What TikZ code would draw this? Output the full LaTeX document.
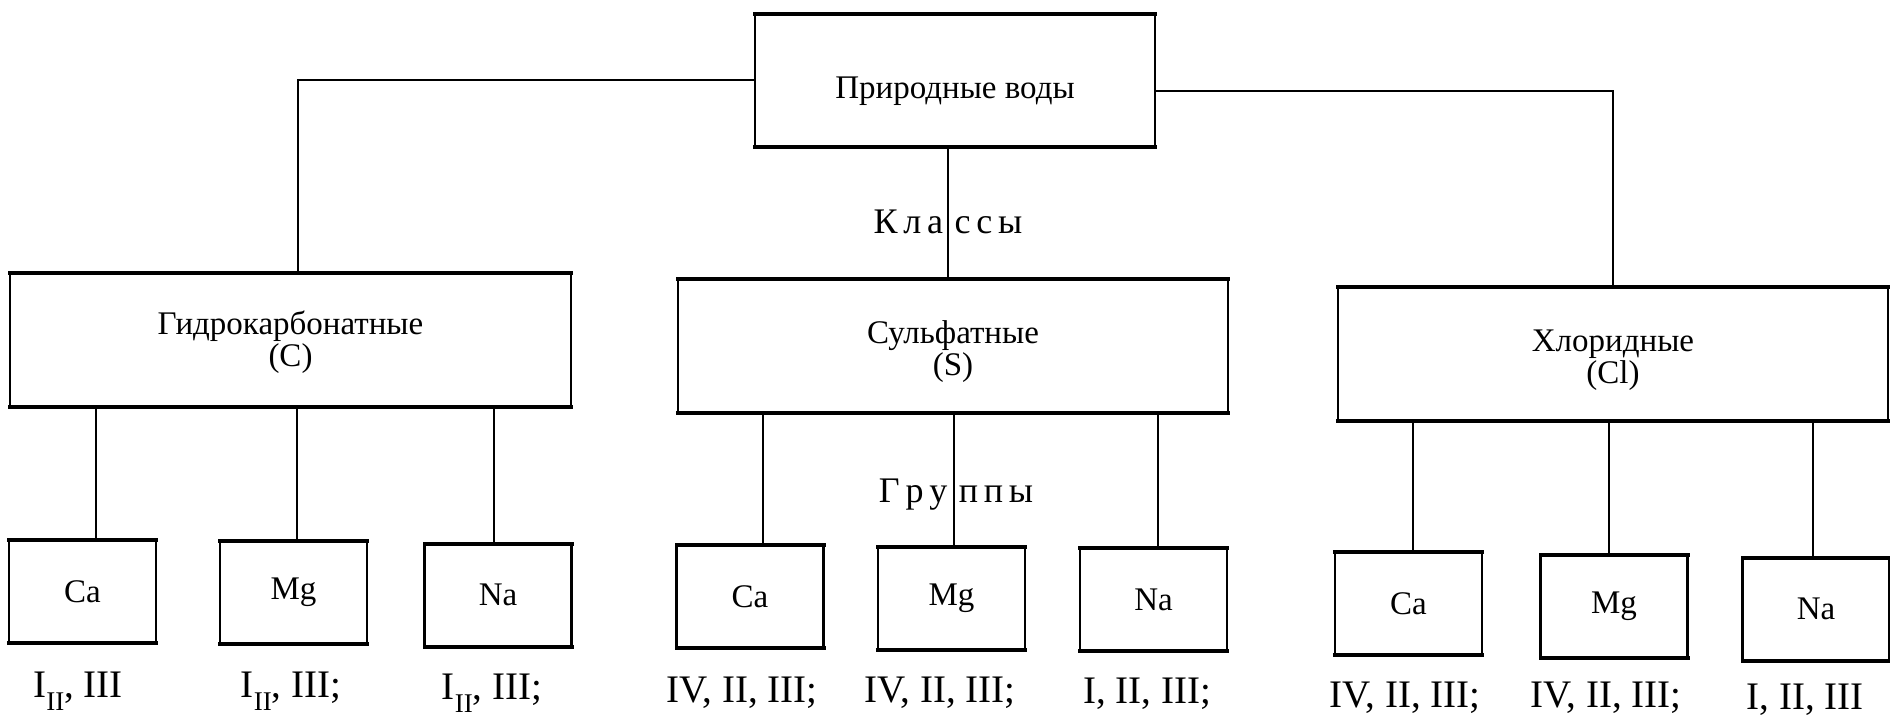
\documentclass[tikz,border=0pt]{standalone}
\usepackage{fontspec}
\setmainfont{Liberation Serif}
\newcommand\lsp{\hspace{0.16em}}
\newcommand\subII{\raisebox{-0.35em}{\fontsize{13.5}{13.5}\selectfont II}}
\newcommand\twoline[3]{\raisebox{#1}[\height][\depth]{\begin{tabular}{@{}c@{}}#2\\#3\end{tabular}}}
\begin{document}
\begin{tikzpicture}[x=0.5pt,y=-0.5pt,
  box/.style={draw, line width=1.3pt, inner sep=0pt, outer sep=0pt, align=center,
    font=\fontsize{16.5}{15.5}\selectfont,
    append after command={(\tikzlastnode.north west) edge[line width=2pt,line cap=rect] (\tikzlastnode.north east)
      (\tikzlastnode.south west) edge[line width=2pt,line cap=rect] (\tikzlastnode.south east)}},
  topbox/.style={box, minimum width=200pt, minimum height=66.5pt},
  classbox/.style={box, minimum width=275pt, minimum height=67pt},
  grpbox/.style={box, minimum width=73.5pt, minimum height=51.5pt},
  lab/.style={inner sep=0pt, anchor=base, font=\fontsize{19.5}{21}\selectfont},
  spaced/.style={inner sep=0pt, font=\fontsize{18}{20}\selectfont},
  conn/.style={line width=1pt}]
\useasboundingbox (0,0) rectangle (1890,716);
\fill[white] (0,0) rectangle (1890,716);

% top
\node[topbox] (top) at (955,80.5) {\raisebox{-5.5pt}[\height][\depth]{Природные воды}};

% classes
\node[classbox, minimum width=280.5pt] (cg) at (290.5,340) {\twoline{-1.5pt}{Гидрокарбонатные}{(C)}};
\node[classbox] (cs) at (953,346.5) {\twoline{-3pt}{Сульфатные}{(S)}};
\node[classbox] (cc) at (1613,354) {\twoline{-3.5pt}{Хлоридные}{(Cl)}};

% groups
\node[grpbox] (lca) at (82.5,591.5) {Ca};
\node[grpbox] (lmg) at (293.5,592.5) {Mg};
\node[grpbox] (lna) at (498,595) {Na};
\node[grpbox] (mca) at (750,596.5) {Ca};
\node[grpbox] (mmg) at (951.5,598) {Mg};
\node[grpbox] (mna) at (1153.5,599.5) {Na};
\node[grpbox] (rca) at (1408.5,603.5) {Ca};
\node[grpbox] (rmg) at (1614,606.5) {Mg};
\node[grpbox] (rna) at (1816,609) {Na};

% labels under groups
\node[lab] (tlca) at (78,697) {I\subII, III};
\node[lab] (tlmg) at (291,697) {I\subII, III;};
\node[lab] (tlna) at (492,699) {I\subII, III;};
\node[lab] (tmca) at (742,702) {IV, II, III;};
\node[lab] (tmmg) at (940,702) {IV, II, III;};
\node[lab] (tmna) at (1147,703) {I, II, III;};
\node[lab] (trca) at (1405,707) {IV, II, III;};
\node[lab] (trmg) at (1606,707) {IV, II, III;};
\node[lab] (trna) at (1805,709) {I, II, III};

% connectors top -> classes
\coordinate (pg) at ([xshift=3.75pt]cg.north);
\draw[conn] (top.west) -| (pg);
\coordinate (pc) at ([yshift=-5.5pt]top.east);
\draw[conn] (pc) -| (cc.north);
\coordinate (pk) at ([xshift=-3.5pt]top.south);
\draw[conn] (pk) -- (pk |- cs.north);

% connectors classes -> groups
\foreach \n/\p/\s in {lca/cg/6.75, lmg/cg/1.75, lna/cg/-2, mca/cs/6.5, mmg/cs/1.25, mna/cs/2.25, rca/cc/2.25, rmg/cc/-2.5, rna/cc/-1.5} {
  \coordinate (c\n) at ([xshift=\s pt]\n.north);
  \draw[conn] (c\n) -- (c\n |- \p.south);
}

% level labels
\node[spaced] (klassy) at (948,222) {К\lsp л\lsp а\lsp\lsp с\lsp с\lsp ы};
\node[spaced] (gruppy) at (956,495) {Г\lsp р\lsp у\lsp\lsp п\lsp п\lsp ы};
\end{tikzpicture}
\end{document}
